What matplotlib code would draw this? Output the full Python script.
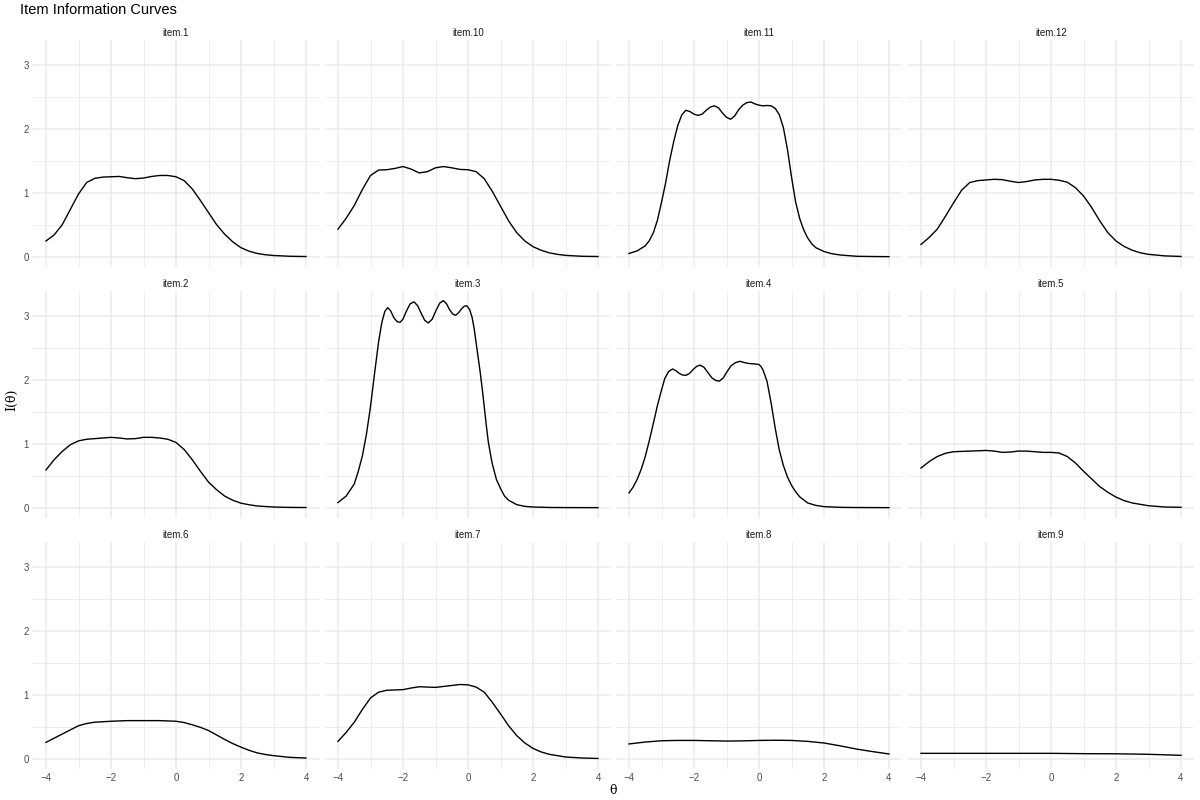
import matplotlib
matplotlib.use("Agg")
import matplotlib.pyplot as plt
import numpy as np

plt.rcParams["font.family"] = ["Liberation Sans", "DejaVu Sans"]

# values (theta, information)
items = ["item.1", "item.10", "item.11", "item.12",
         "item.2", "item.3", "item.4", "item.5",
         "item.6", "item.7", "item.8", "item.9"]

theta_1 = [-4, -3.75, -3.5, -3.25, -3, -2.75, -2.5, -2.25, -2, -1.75, -1.5, -1.25, -1, -0.75, -0.5, -0.25, 0,
           0.25, 0.5, 0.75, 1, 1.25, 1.5, 1.75, 2, 2.25, 2.5, 2.75, 3, 3.5, 4]
info_1 = [0.245, 0.34, 0.5, 0.74, 0.98, 1.16, 1.225, 1.245, 1.25, 1.255, 1.235, 1.22, 1.23, 1.255, 1.27, 1.27, 1.25,
          1.19, 1.06, 0.88, 0.69, 0.5, 0.35, 0.23, 0.14, 0.085, 0.05, 0.03, 0.018, 0.006, 0.002]

theta_10 = [-4, -3.75, -3.5, -3.25, -3, -2.75, -2.5, -2.25, -2, -1.75, -1.5, -1.25, -1, -0.75, -0.5, -0.25, 0,
            0.25, 0.5, 0.75, 1, 1.25, 1.5, 1.75, 2, 2.25, 2.5, 2.75, 3, 3.5, 4]
info_10 = [0.43, 0.6, 0.8, 1.05, 1.27, 1.355, 1.36, 1.38, 1.41, 1.37, 1.31, 1.33, 1.39, 1.41, 1.39, 1.365, 1.36,
           1.33, 1.22, 1.02, 0.79, 0.56, 0.375, 0.245, 0.156, 0.1, 0.06, 0.036, 0.02, 0.006, 0.002]

theta_11 = [-4, -3.75, -3.5, -3.375, -3.25, -3.125, -3, -2.875, -2.75, -2.625, -2.5, -2.375, -2.25, -2.125, -2, -1.875,
            -1.75, -1.625, -1.5, -1.375, -1.25, -1.125, -1, -0.875, -0.75, -0.625, -0.5, -0.375, -0.25, -0.125, 0,
            0.125, 0.25, 0.375, 0.5, 0.625, 0.75, 0.875, 1, 1.125, 1.25, 1.375, 1.5, 1.625, 1.75, 2, 2.25, 2.5, 3, 3.5, 4]
info_11 = [0.05, 0.09, 0.17, 0.25, 0.375, 0.57, 0.85, 1.15, 1.5, 1.8, 2.05, 2.22, 2.29, 2.27, 2.23, 2.21,
           2.23, 2.29, 2.34, 2.36, 2.33, 2.25, 2.18, 2.15, 2.2, 2.3, 2.37, 2.41, 2.42, 2.39, 2.37,
           2.36, 2.365, 2.36, 2.32, 2.22, 2.02, 1.68, 1.25, 0.86, 0.6, 0.42, 0.29, 0.2, 0.14, 0.08, 0.045, 0.026, 0.006, 0.002, 0.0]

theta_12 = [-4, -3.75, -3.5, -3.25, -3, -2.75, -2.5, -2.25, -2, -1.75, -1.5, -1.25, -1, -0.75, -0.5, -0.25, 0,
            0.25, 0.5, 0.75, 1, 1.25, 1.5, 1.75, 2, 2.25, 2.5, 2.75, 3, 3.5, 4]
info_12 = [0.19, 0.3, 0.43, 0.63, 0.84, 1.04, 1.16, 1.19, 1.2, 1.21, 1.205, 1.18, 1.16, 1.175, 1.2, 1.21, 1.21,
           1.195, 1.165, 1.08, 0.95, 0.77, 0.56, 0.375, 0.245, 0.16, 0.1, 0.06, 0.036, 0.012, 0.003]

theta_2 = [-4, -3.75, -3.5, -3.25, -3, -2.75, -2.5, -2.25, -2, -1.75, -1.5, -1.25, -1, -0.75, -0.5, -0.25, 0,
           0.25, 0.5, 0.75, 1, 1.25, 1.5, 1.75, 2, 2.25, 2.5, 3, 3.5, 4]
info_2 = [0.59, 0.75, 0.88, 0.985, 1.045, 1.07, 1.08, 1.09, 1.1, 1.09, 1.075, 1.08, 1.1, 1.1, 1.09, 1.07, 1.02,
          0.91, 0.75, 0.57, 0.4, 0.28, 0.18, 0.115, 0.07, 0.045, 0.026, 0.01, 0.004, 0.002]

theta_3 = [-4, -3.75, -3.5, -3.375, -3.25, -3.125, -3, -2.875, -2.75, -2.65, -2.56, -2.47, -2.38, -2.28, -2.18, -2.09,
           -2.0, -1.9, -1.78, -1.66, -1.55, -1.44, -1.33, -1.22, -1.1, -0.99, -0.87, -0.76, -0.66, -0.57, -0.47, -0.38,
           -0.29, -0.2, -0.12, -0.04, 0.05, 0.125, 0.19, 0.25, 0.31, 0.375, 0.44, 0.5, 0.56, 0.625, 0.69, 0.75, 0.875,
           1.0, 1.125, 1.25, 1.5, 1.75, 2, 2.5, 3, 4]
info_3 = [0.08, 0.18, 0.37, 0.57, 0.81, 1.15, 1.58, 2.1, 2.6, 2.9, 3.07, 3.13, 3.08, 2.97, 2.91, 2.9,
          2.95, 3.07, 3.19, 3.22, 3.16, 3.04, 2.93, 2.89, 2.95, 3.08, 3.2, 3.24, 3.19, 3.1, 3.03, 3.01,
          3.05, 3.11, 3.15, 3.16, 3.1, 2.98, 2.8, 2.58, 2.36, 2.12, 1.85, 1.58, 1.3, 1.03, 0.84, 0.68, 0.44,
          0.3, 0.18, 0.115, 0.047, 0.02, 0.01, 0.003, 0.001, 0.0]

theta_4 = [-4, -3.875, -3.75, -3.625, -3.5, -3.375, -3.25, -3.125, -3, -2.9, -2.78, -2.66, -2.55, -2.45, -2.35, -2.25,
           -2.14, -2.03, -1.92, -1.82, -1.7, -1.58, -1.45, -1.33, -1.22, -1.1, -0.98, -0.86, -0.72, -0.58, -0.45, -0.3,
           -0.15, 0, 0.06, 0.125, 0.19, 0.25, 0.375, 0.5, 0.625, 0.75, 0.875, 1, 1.125, 1.25, 1.5, 1.75, 2, 2.5, 3, 4]
info_4 = [0.23, 0.32, 0.44, 0.6, 0.8, 1.05, 1.32, 1.6, 1.84, 2.02, 2.13, 2.17, 2.14, 2.1, 2.075, 2.07,
          2.1, 2.16, 2.21, 2.23, 2.2, 2.12, 2.03, 1.99, 1.98, 2.03, 2.13, 2.22, 2.27, 2.29, 2.27, 2.255,
          2.25, 2.24, 2.21, 2.15, 2.06, 1.97, 1.63, 1.24, 0.9, 0.66, 0.48, 0.35, 0.25, 0.17, 0.073, 0.035, 0.016, 0.005, 0.002, 0.0]

theta_5 = [-4, -3.75, -3.5, -3.25, -3, -2.5, -2, -1.75, -1.5, -1.25, -1, -0.75, -0.5, -0.25, 0,
           0.25, 0.5, 0.75, 1, 1.25, 1.5, 1.75, 2, 2.25, 2.5, 3, 3.5, 4]
info_5 = [0.62, 0.72, 0.8, 0.85, 0.875, 0.885, 0.895, 0.885, 0.865, 0.87, 0.885, 0.885, 0.875, 0.865, 0.865,
          0.855, 0.8, 0.7, 0.57, 0.45, 0.33, 0.24, 0.165, 0.11, 0.073, 0.03, 0.01, 0.005]

theta_6 = [-4, -3.5, -3, -2.75, -2.5, -2, -1.5, -1, -0.5, 0, 0.25, 0.5, 0.75, 1, 1.25, 1.5, 1.75, 2,
           2.25, 2.5, 2.75, 3, 3.5, 4]
info_6 = [0.255, 0.385, 0.515, 0.55, 0.57, 0.585, 0.595, 0.595, 0.595, 0.585, 0.565, 0.53, 0.49, 0.44, 0.37, 0.3, 0.235, 0.18,
          0.13, 0.09, 0.065, 0.047, 0.02, 0.01]

theta_7 = [-4, -3.75, -3.5, -3.25, -3, -2.75, -2.5, -2.25, -2, -1.75, -1.5, -1.25, -1, -0.75, -0.5, -0.25, 0,
           0.25, 0.5, 0.75, 1, 1.25, 1.5, 1.75, 2, 2.25, 2.5, 3, 3.5, 4]
info_7 = [0.27, 0.41, 0.57, 0.77, 0.95, 1.04, 1.07, 1.075, 1.08, 1.105, 1.125, 1.12, 1.115, 1.13, 1.145, 1.16, 1.155,
          1.12, 1.04, 0.88, 0.7, 0.515, 0.36, 0.245, 0.16, 0.105, 0.068, 0.026, 0.01, 0.003]

theta_8 = [-4, -3.5, -3, -2.5, -2, -1.5, -1, -0.5, 0, 0.5, 1, 1.5, 2, 2.5, 3, 3.5, 4]
info_8 = [0.23, 0.26, 0.28, 0.285, 0.285, 0.28, 0.275, 0.278, 0.285, 0.288, 0.285, 0.27, 0.245, 0.2, 0.15, 0.11, 0.073]

theta_9 = [-4, -2, 0, 1, 2, 3, 4]
info_9 = [0.083, 0.083, 0.083, 0.078, 0.076, 0.068, 0.052]

thetas = [theta_1, theta_10, theta_11, theta_12, theta_2, theta_3, theta_4, theta_5, theta_6, theta_7, theta_8, theta_9]
infos = [info_1, info_10, info_11, info_12, info_2, info_3, info_4, info_5, info_6, info_7, info_8, info_9]

W, H = 1200, 800
fig = plt.figure(figsize=(12, 8), dpi=100)
fig.patch.set_facecolor("white")

col_left = [33, 325, 616, 908]
panel_w = 286
row_top = [40, 291, 542]
panel_h = 227

grid_col = "#ebebeb"
txt_col = "#4d4d4d"

for i, name in enumerate(items):
    r, c = divmod(i, 4)
    ax = fig.add_axes([col_left[c] / W, 1 - (row_top[r] + panel_h) / H, panel_w / W, panel_h / H])
    ax.set_xlim(-4.4, 4.4)
    ax.set_ylim(-0.162, 3.39)
    ax.set_xticks([-4, -2, 0, 2, 4])
    ax.set_xticks([-3, -1, 1, 3], minor=True)
    ax.set_yticks([0, 1, 2, 3])
    ax.set_yticks([0.5, 1.5, 2.5], minor=True)
    ax.grid(True, which="major", color=grid_col, linewidth=1.1)
    ax.grid(True, which="minor", color=grid_col, linewidth=0.6)
    ax.set_axisbelow(True)
    for s in ax.spines.values():
        s.set_visible(False)
    ax.tick_params(which="both", length=0, labelsize=7, labelcolor=txt_col, pad=3)
    if c != 0:
        ax.set_yticklabels([])
    if r != 2:
        ax.set_xticklabels([])
    ax.plot(thetas[i], infos[i], color="black", linewidth=1.0)
    ax.set_title(name, fontsize=7, color="#1a1a1a", pad=3)

fig.text(20 / W, 1 - 10 / H, "Item Information Curves", fontsize=10.5, ha="left", va="center")
fig.text(12 / W, 0.5, "I(θ)", rotation=90, fontsize=9, family="DejaVu Serif", ha="center", va="center")
fig.text(613 / W, 1 - 790 / H, "θ", fontsize=9, family="DejaVu Serif", ha="center", va="center")

fig.savefig("out.png", dpi=100)
